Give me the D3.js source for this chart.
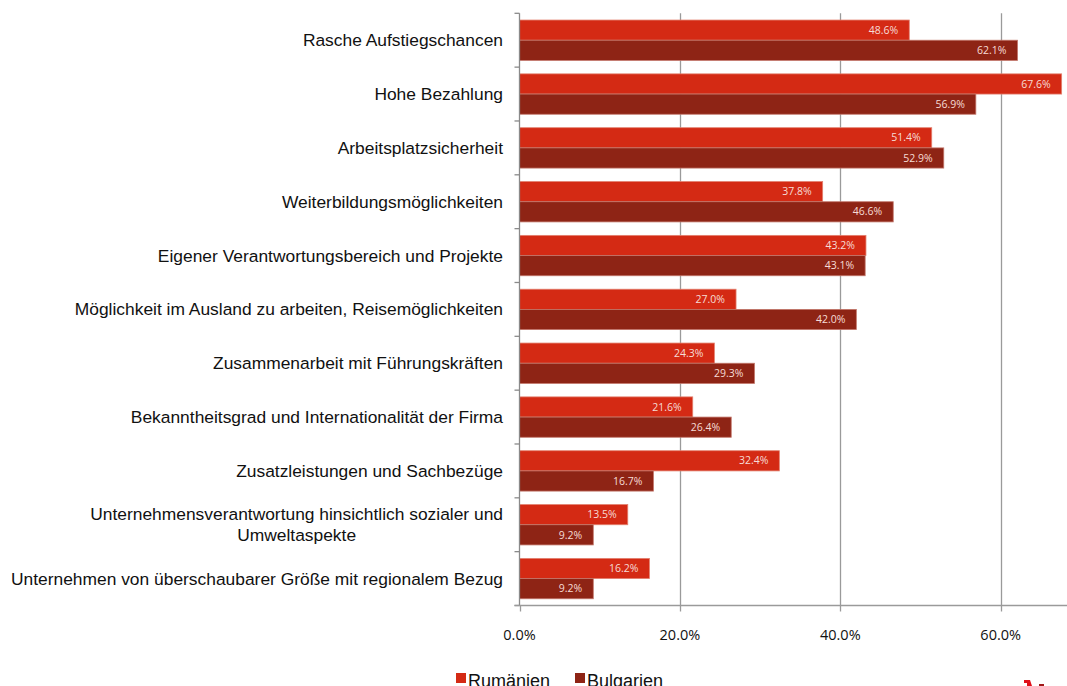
<!DOCTYPE html>
<html>
<head>
<meta charset="utf-8">
<script src="https://cdn.jsdelivr.net/npm/d3@7"></script>
<style>
  body { margin: 0; background: #fff; }
  svg { display: block; }
</style>
</head>
<body>
<div id="chart"></div>
<script>
var categories = [
  "Rasche Aufstiegschancen",
  "Hohe Bezahlung",
  "Arbeitsplatzsicherheit",
  "Weiterbildungsmöglichkeiten",
  "Eigener Verantwortungsbereich und Projekte",
  "Möglichkeit im Ausland zu arbeiten, Reisemöglichkeiten",
  "Zusammenarbeit mit Führungskräften",
  "Bekanntheitsgrad und Internationalität der Firma",
  "Zusatzleistungen und Sachbezüge",
  "Unternehmensverantwortung hinsichtlich sozialer und\nUmweltaspekte",
  "Unternehmen von überschaubarer Größe mit regionalem Bezug"
];
var seriesNames = ["Rumänien", "Bulgarien"];
var rumaenien = [48.6, 67.6, 51.4, 37.8, 43.2, 27.0, 24.3, 21.6, 32.4, 13.5, 16.2];
var bulgarien = [62.1, 56.9, 52.9, 46.6, 43.1, 42.0, 29.3, 26.4, 16.7, 9.2, 9.2];
var xTicks = [0, 20, 40, 60];

var width = 1067, height = 686;
var plotLeft = 519.5, plotTop = 13.3, plotBottom = 605.5;
var colors = { "Rumänien": "#d42a14", "Bulgarien": "#8e2415" };
var strokes = { "Rumänien": "#e3806f", "Bulgarien": "#c2766a" };

var rows = categories.map(function(c, i) {
  return { cat: c, values: [
    { key: "Rumänien", v: rumaenien[i] },
    { key: "Bulgarien", v: bulgarien[i] }
  ]};
});

var svg = d3.select("#chart").append("svg")
  .attr("width", width)
  .attr("height", height);

/* Scales */
var xScale = d3.scaleLinear().domain([0, 70]).range([plotLeft, plotLeft + 3.5 * 160.4]);
var yScale = d3.scaleBand().domain(categories).range([plotTop, plotBottom])
  .paddingInner(0.25).paddingOuter(0.125);
var ySub = d3.scaleBand().domain(seriesNames).range([0, yScale.bandwidth()]);

/* Grid lines */
svg.append("g").selectAll("line")
  .data(xTicks.slice(1)).enter()
  .append("line")
  .attr("x1", d => Math.round(xScale(d)) + 0.5)
  .attr("x2", d => Math.round(xScale(d)) + 0.5)
  .attr("y1", plotTop)
  .attr("y2", plotBottom)
  .style("stroke", "#9a9a9a")
  .style("stroke-width", 1.3);

/* Bars */
var groups = svg.append("g").selectAll(".cat")
  .data(rows).enter()
  .append("g")
  .attr("class", "cat")
  .attr("transform", d => "translate(0," + yScale(d.cat) + ")");

groups.selectAll("rect")
  .data(d => d.values).enter()
  .append("rect")
  .attr("x", xScale(0))
  .attr("y", d => ySub(d.key))
  .attr("width", d => xScale(d.v) - xScale(0))
  .attr("height", ySub.bandwidth())
  .style("fill", d => colors[d.key])
  .style("stroke", d => strokes[d.key])
  .style("stroke-width", 0.8);

groups.selectAll("text")
  .data(d => d.values).enter()
  .append("text")
  .attr("x", d => xScale(d.v) - 11)
  .attr("y", d => ySub(d.key) + ySub.bandwidth() / 2)
  .attr("dy", "0.35em")
  .attr("text-anchor", "end")
  .style("font-family", "'Open Sans', sans-serif")
  .style("font-size", "10.5px")
  .style("fill", "#f6dcd6")
  .text(d => d.v.toFixed(1) + "%");

/* Y axis */
var yBounds = d3.range(categories.length + 1)
  .map(i => plotTop + i * (plotBottom - plotTop) / categories.length);

svg.append("line")
  .attr("x1", plotLeft).attr("x2", plotLeft)
  .attr("y1", plotTop).attr("y2", plotBottom)
  .style("stroke", "#8a8a8a").style("stroke-width", 1.3);

svg.append("g").selectAll("line")
  .data(yBounds).enter()
  .append("line")
  .attr("x1", plotLeft - 5).attr("x2", plotLeft)
  .attr("y1", d => d).attr("y2", d => d)
  .style("stroke", "#8a8a8a").style("stroke-width", 1.3);

/* X axis */
svg.append("line")
  .attr("x1", plotLeft - 5).attr("x2", width)
  .attr("y1", plotBottom).attr("y2", plotBottom)
  .style("stroke", "#9a9a9a").style("stroke-width", 1.3);

svg.append("g").selectAll("line")
  .data(xTicks).enter()
  .append("line")
  .attr("x1", d => Math.round(xScale(d)) + 0.5)
  .attr("x2", d => Math.round(xScale(d)) + 0.5)
  .attr("y1", plotBottom).attr("y2", plotBottom + 6)
  .style("stroke", "#9a9a9a").style("stroke-width", 1.3);

svg.append("g").selectAll("text")
  .data(xTicks).enter()
  .append("text")
  .attr("x", d => xScale(d))
  .attr("y", 635)
  .attr("dy", "0.35em")
  .attr("text-anchor", "middle")
  .style("font-family", "'Open Sans', sans-serif")
  .style("font-size", "14.5px")
  .style("fill", "#111")
  .text(d => d.toFixed(1) + "%");

/* Category labels */
var labelX = 503;
var labels = svg.append("g").selectAll("text")
  .data(categories).enter()
  .append("text")
  .style("font-family", "'Liberation Sans', Arial, sans-serif")
  .style("font-size", "17.4px")
  .style("fill", "#111");

labels.each(function(d) {
  var t = d3.select(this);
  var lines = d.split("\n");
  var cy = yScale(d) + yScale.bandwidth() / 2;
  var lh = 21;
  lines.forEach(function(l, i) {
    t.append("tspan")
      .attr("y", cy + (i - (lines.length - 1) / 2) * lh)
      .attr("dy", "0.35em")
      .text(l);
  });
  if (lines.length === 1) {
    t.attr("text-anchor", "end").selectAll("tspan").attr("x", labelX);
  } else {
    var w = d3.max(t.selectAll("tspan").nodes(), n => n.getComputedTextLength());
    t.attr("text-anchor", "middle").selectAll("tspan").attr("x", labelX - w / 2);
  }
});

/* Legend */
var legendX = [456, 575];
var legend = svg.selectAll(".legend")
  .data(seriesNames).enter()
  .append("g")
  .attr("class", "legend")
  .attr("transform", (d, i) => "translate(" + legendX[i] + ",673)");

legend.append("rect")
  .attr("width", 10).attr("height", 10)
  .style("fill", d => colors[d]);

legend.append("text")
  .attr("x", 12)
  .attr("y", 13.5)
  .style("font-family", "'Liberation Sans', Arial, sans-serif")
  .style("font-size", "18px")
  .style("fill", "#111")
  .text(d => d);

/* logo fragment, bottom right (cut off in the original) */
svg.append("path")
  .attr("d", "M1024,680 L1030,680 L1032,686 L1027,686 L1027,683 L1024,683 Z")
  .style("fill", "#e0101a");
svg.append("rect")
  .attr("x", 1039).attr("y", 684).attr("width", 5).attr("height", 2)
  .style("fill", "#a01818");
</script>
</body>
</html>
